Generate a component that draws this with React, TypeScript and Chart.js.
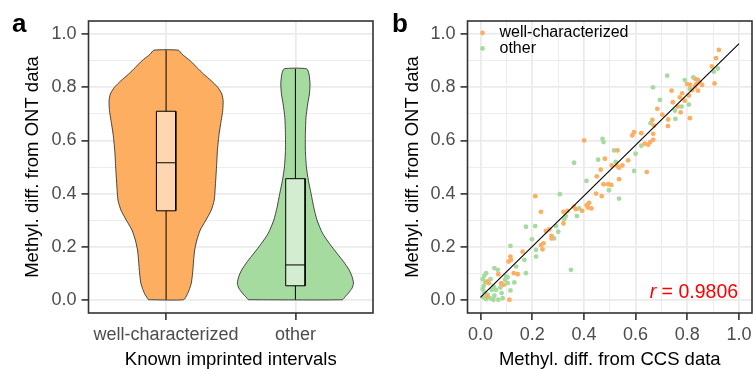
import React, { useEffect, useRef } from "react";
import { Chart, registerables } from "chart.js";

Chart.register(...registerables);

const FONT = "'Liberation Sans', Arial, Helvetica, sans-serif";

// ---------- data ----------
const categories = ["well-characterized", "other"];
const seriesColors = ["#FDAE61", "#A6DBA0"];
const boxColors = ["#FED6B0", "#D2EDCF"];

// violin outlines (density half-widths in category units, per y level)
const wellLevels = [0, 0.01875, 0.0375, 0.0625, 0.1, 0.15, 0.1875, 0.225, 0.2625, 0.3, 0.3375, 0.375, 0.4375, 0.5, 0.5625, 0.625, 0.675, 0.7125, 0.75, 0.775, 0.8, 0.825, 0.85, 0.875, 0.9, 0.925, 0.94];
const wellHalfWidth = [0.136, 0.162, 0.179, 0.195, 0.205, 0.213, 0.221, 0.238, 0.264, 0.308, 0.349, 0.372, 0.382, 0.39, 0.397, 0.41, 0.426, 0.438, 0.441, 0.431, 0.4, 0.349, 0.29, 0.238, 0.187, 0.123, 0.095];
const otherLevels = [0, 0.01, 0.025, 0.04375, 0.0625, 0.0875, 0.1125, 0.14375, 0.175, 0.2125, 0.25, 0.3, 0.35, 0.4, 0.45, 0.5, 0.5625, 0.625, 0.6875, 0.7375, 0.775, 0.8125, 0.85, 0.87];
const otherHalfWidth = [0.364, 0.382, 0.41, 0.438, 0.449, 0.438, 0.415, 0.372, 0.321, 0.262, 0.21, 0.167, 0.141, 0.121, 0.1, 0.085, 0.077, 0.077, 0.082, 0.095, 0.108, 0.113, 0.105, 0.087];

// boxplot statistics per category
const boxQ1 = [0.335, 0.0525];
const boxMedian = [0.516, 0.131];
const boxQ3 = [0.71, 0.456];
const whiskerLow = [0, 0];
const whiskerHigh = [0.94, 0.87];

// axis ticks
const majorTicks = [0, 0.2, 0.4, 0.6, 0.8, 1.0];
const minorTicks = [0.1, 0.3, 0.5, 0.7, 0.9];

// scatter: well-characterized
const wellX = [0.922, 0.911, 0.895, 0.905, 0.832, 0.841, 0.847, 0.835, 0.857, 0.829, 0.81, 0.799, 0.819, 0.841, 0.739, 0.78, 0.806, 0.771, 0.79, 0.744, 0.763, 0.684, 0.774, 0.703, 0.726, 0.725, 0.81, 0.665, 0.671, 0.594, 0.587, 0.622, 0.668, 0.668, 0.656, 0.635, 0.649, 0.401, 0.53, 0.571, 0.481, 0.508, 0.53, 0.549, 0.536, 0.465, 0.643, 0.45, 0.536, 0.476, 0.494, 0.506, 0.447, 0.469, 0.42, 0.411, 0.416, 0.429, 0.212, 0.234, 0.393, 0.362, 0.369, 0.321, 0.337, 0.321, 0.266, 0.253, 0.275, 0.275, 0.244, 0.234, 0.24, 0.163, 0.116, 0.118, 0.109, 0.069, 0.144, 0.129, 0.08, 0.09, 0.026, 0.032, 0.026, 0.112];
const wellY = [0.941, 0.91, 0.879, 0.815, 0.831, 0.828, 0.819, 0.8125, 0.809, 0.8025, 0.81, 0.8125, 0.79, 0.7875, 0.7875, 0.7775, 0.769, 0.7625, 0.75, 0.744, 0.7275, 0.719, 0.706, 0.6975, 0.679, 0.654, 0.684, 0.6775, 0.656, 0.631, 0.619, 0.6275, 0.625, 0.6025, 0.594, 0.5875, 0.584, 0.6, 0.5625, 0.525, 0.531, 0.506, 0.5025, 0.506, 0.4975, 0.49, 0.481, 0.465, 0.454, 0.435, 0.435, 0.4325, 0.4, 0.39, 0.365, 0.356, 0.3475, 0.344, 0.39, 0.331, 0.335, 0.35, 0.341, 0.331, 0.335, 0.2875, 0.265, 0.259, 0.24, 0.231, 0.2125, 0.206, 0.19, 0.181, 0.1625, 0.15, 0.144, 0.096, 0.096, 0.1, 0.0625, 0.056, 0.069, 0.0625, 0.0125, 0.0];

// scatter: other
const otherX = [0.722, 0.823, 0.79, 0.667, 0.918, 0.902, 0.81, 0.694, 0.778, 0.806, 0.752, 0.754, 0.658, 0.472, 0.476, 0.362, 0.455, 0.517, 0.523, 0.6, 0.594, 0.622, 0.41, 0.497, 0.536, 0.307, 0.382, 0.373, 0.33, 0.324, 0.292, 0.301, 0.285, 0.176, 0.212, 0.199, 0.215, 0.215, 0.116, 0.067, 0.054, 0.099, 0.105, 0.131, 0.176, 0.35, 0.17, 0.138, 0.022, 0.015, 0.009, 0.018, 0.013, 0.009, 0.015, 0.028, 0.009, 0.022, 0.039, 0.054, 0.05, 0.044, 0.06, 0.077, 0.082, 0.086, 0.116, 0.069, 0.105, 0.095, 0.039, 0.051];
const otherY = [0.844, 0.8375, 0.8275, 0.8, 0.871, 0.859, 0.794, 0.7525, 0.7275, 0.735, 0.7125, 0.681, 0.665, 0.606, 0.594, 0.516, 0.5275, 0.5625, 0.519, 0.55, 0.485, 0.58, 0.4475, 0.4125, 0.381, 0.3975, 0.344, 0.315, 0.315, 0.3025, 0.2775, 0.256, 0.231, 0.275, 0.2775, 0.2275, 0.1875, 0.1625, 0.2025, 0.1125, 0.119, 0.0875, 0.084, 0.065, 0.1, 0.1125, 0.15, 0.125, 0.1, 0.09, 0.0775, 0.065, 0.0525, 0.04, 0.0275, 0.019, 0.01, 0.0025, 0.005, 0.015, 0.0, 0.0375, 0.0375, 0.046, 0.025, 0.006, 0.035, 0.0, 0.0625, 0.075, 0.0775, 0.05];

// fitted line
const fitX = [0, 1];
const fitY = [0.009, 0.965];
const correlation = "0.9806";

// ---------- helpers ----------
const BOX_HALF = 0.075;
const GRID = "#EBEBEB";
const DARK = "#333333";
const TICK_TXT = "#4D4D4D";

const isIn = (arr: number[], v: number) => arr.some((m) => Math.abs(m - v) < 1e-6);

function violinPolygon(center: number, levels: number[], hw: number[]) {
  const left = levels.map((y, i) => ({ x: center - hw[i], y }));
  const right = levels.map((y, i) => ({ x: center + hw[i], y })).reverse();
  return [...left, ...right, left[0]];
}

function valueAxis(axis: "x" | "y", titleText: string, fixedSize: number, tickPad: number, titlePad: any) {
  return {
    type: "linear",
    min: -0.05,
    max: 1.05,
    afterBuildTicks: (s: any) => {
      s.ticks = [...majorTicks, ...minorTicks].sort((a, b) => a - b).map((v) => ({ value: v }));
    },
    ticks: {
      autoSkip: false,
      maxRotation: 0,
      padding: tickPad,
      color: TICK_TXT,
      font: { family: FONT, size: 18 },
      callback: (v: number) => (isIn(majorTicks, v) ? v.toFixed(1) : ""),
    },
    grid: {
      color: GRID,
      lineWidth: (ctx: any) => (ctx.tick && isIn(minorTicks, ctx.tick.value) ? 0.9 : 1.8),
      tickColor: (ctx: any) => (ctx.tick && isIn(minorTicks, ctx.tick.value) ? "rgba(0,0,0,0)" : DARK),
      tickWidth: 1.6,
      tickLength: 7,
      drawTicks: true,
    },
    border: { display: false },
    title: {
      display: true,
      text: titleText,
      color: "#000000",
      font: { family: FONT, size: 18.5 },
      padding: titlePad,
    },
    afterFit: (s: any) => {
      if (axis === "y") {
        s.width = fixedSize;
        s.paddingTop = 0;
        s.paddingBottom = 0;
      } else {
        s.height = fixedSize;
        s.paddingLeft = 0;
        s.paddingRight = 0;
      }
    },
  };
}

function framePlugin(letter: string, letterX: number) {
  return {
    id: "frame_" + letter,
    afterDraw(chart: any) {
      const { ctx, chartArea: a } = chart;
      ctx.save();
      ctx.strokeStyle = DARK;
      ctx.lineWidth = 1.6;
      ctx.strokeRect(a.left, a.top, a.right - a.left, a.bottom - a.top);
      ctx.fillStyle = "#000";
      ctx.font = `bold 26px ${FONT}`;
      ctx.textAlign = "left";
      ctx.textBaseline = "alphabetic";
      ctx.fillText(letter, letterX, 32);
      ctx.restore();
    },
  };
}

// ---------- panel a ----------
function ViolinPanel() {
  const ref = useRef<HTMLCanvasElement | null>(null);
  useEffect(() => {
    if (!ref.current) return;
    const positions = categories.map((_, i) => i + 1);
    const levelSets = [wellLevels, otherLevels];
    const hwSets = [wellHalfWidth, otherHalfWidth];
    const datasets: any[] = [];
    categories.forEach((cat, i) => {
      const c = positions[i];
      datasets.push({
        label: cat + " violin",
        data: violinPolygon(c, levelSets[i], hwSets[i]),
        fill: "shape",
        backgroundColor: seriesColors[i],
        borderColor: DARK,
        borderWidth: 0.9,
        pointRadius: 0,
        tension: 0.2,
        order: 10,
      });
      datasets.push({
        label: cat + " whisker",
        data: [
          { x: c, y: whiskerLow[i] },
          { x: c, y: whiskerHigh[i] },
        ],
        fill: false,
        borderColor: "#000",
        borderWidth: 1,
        pointRadius: 0,
        order: 9,
      });
      datasets.push({
        label: cat + " box",
        data: [
          { x: c - BOX_HALF, y: boxQ1[i] },
          { x: c - BOX_HALF, y: boxQ3[i] },
          { x: c + BOX_HALF, y: boxQ3[i] },
          { x: c + BOX_HALF, y: boxQ1[i] },
          { x: c - BOX_HALF, y: boxQ1[i] },
        ],
        fill: "shape",
        backgroundColor: boxColors[i],
        borderColor: "#000",
        borderWidth: 1,
        pointRadius: 0,
        tension: 0,
        order: 8,
      });
      datasets.push({
        label: cat + " median",
        data: [
          { x: c - BOX_HALF, y: boxMedian[i] },
          { x: c + BOX_HALF, y: boxMedian[i] },
        ],
        fill: false,
        borderColor: "#000",
        borderWidth: 1,
        pointRadius: 0,
        order: 7,
      });
    });

    const chart = new Chart(ref.current, {
      type: "line",
      data: { datasets },
      plugins: [framePlugin("a", 12)],
      options: {
        animation: false,
        responsive: false,
        devicePixelRatio: 1,
        events: [],
        layout: { padding: { top: 21, right: 7, left: 0, bottom: 0 } },
        plugins: { legend: { display: false }, tooltip: { enabled: false } },
        scales: {
          x: {
            type: "linear",
            min: 0.4,
            max: categories.length + 0.6,
            afterBuildTicks: (s: any) => {
              s.ticks = positions.map((v) => ({ value: v }));
            },
            ticks: {
              autoSkip: false,
              maxRotation: 0,
              padding: 4,
              color: TICK_TXT,
              font: { family: FONT, size: 18 },
              callback: (v: number) => categories[Math.round(v) - 1] ?? "",
            },
            grid: { color: GRID, lineWidth: 1.8, tickColor: DARK, tickWidth: 1.6, tickLength: 7 },
            border: { display: false },
            title: {
              display: true,
              text: "Known imprinted intervals",
              color: "#000",
              font: { family: FONT, size: 18.5 },
              padding: { top: 0, bottom: 9.4 },
            },
            afterFit: (s: any) => {
              s.height = 67;
              s.paddingLeft = 0;
              s.paddingRight = 0;
            },
          } as any,
          y: valueAxis("y", "Methyl. diff. from ONT data", 88.5, 5, { top: 21.5, bottom: 0 }) as any,
        },
      } as any,
    });
    return () => chart.destroy();
  }, []);
  return (
    <canvas
      ref={ref}
      width={380}
      height={380}
      style={{ position: "absolute", left: 0, top: 0, width: 380, height: 380 }}
    />
  );
}

// ---------- panel b ----------
function ScatterPanel() {
  const ref = useRef<HTMLCanvasElement | null>(null);
  useEffect(() => {
    if (!ref.current) return;
    const wellPts = wellX.map((x, i) => ({ x, y: wellY[i] }));
    const otherPts = otherX.map((x, i) => ({ x, y: otherY[i] }));
    const fitPts = fitX.map((x, i) => ({ x, y: fitY[i] }));

    const overlay = {
      id: "overlayB",
      afterDraw(chart: any) {
        const { ctx, chartArea: a, scales } = chart;
        ctx.save();
        // legend
        [0, 1].forEach((i) => {
          const y = a.top + 12 + i * 15.5;
          ctx.fillStyle = seriesColors[i];
          ctx.beginPath();
          ctx.arc(a.left + 15, y, 2.4, 0, Math.PI * 2);
          ctx.fill();
          ctx.fillStyle = "#000";
          ctx.font = `16px ${FONT}`;
          ctx.textAlign = "left";
          ctx.textBaseline = "middle";
          ctx.fillText(categories[i], a.left + 32, y);
        });
        // correlation label
        const right = scales.x.getPixelForValue(1.0) - 1;
        const base = scales.y.getPixelForValue(0) - 1.5;
        const italic = `italic 19.5px ${FONT}`;
        const normal = `19.5px ${FONT}`;
        ctx.textBaseline = "alphabetic";
        ctx.textAlign = "left";
        ctx.font = italic;
        const wr = ctx.measureText("r").width;
        ctx.font = normal;
        const rest = " = " + correlation;
        const wrest = ctx.measureText(rest).width;
        const start = right - wr - wrest;
        ctx.fillStyle = "#FF0000";
        ctx.font = italic;
        ctx.fillText("r", start, base);
        ctx.font = normal;
        ctx.fillText(rest, start + wr, base);
        ctx.restore();
      },
    };

    const chart = new Chart(ref.current, {
      type: "scatter",
      data: {
        datasets: [
          {
            label: "fit",
            data: fitPts,
            showLine: true,
            borderColor: "#000",
            borderWidth: 1.1,
            pointRadius: 0,
            fill: false,
            order: 0,
          },
          {
            label: categories[0],
            data: wellPts,
            backgroundColor: seriesColors[0],
            borderWidth: 0,
            pointRadius: 2.4,
            order: 1,
          },
          {
            label: categories[1],
            data: otherPts,
            backgroundColor: seriesColors[1],
            borderWidth: 0,
            pointRadius: 2.4,
            order: 2,
          },
        ],
      },
      plugins: [framePlugin("b", 12), overlay],
      options: {
        animation: false,
        responsive: false,
        devicePixelRatio: 1,
        events: [],
        layout: { padding: { top: 21, right: 28, left: 0, bottom: 0 } },
        plugins: { legend: { display: false }, tooltip: { enabled: false } },
        scales: {
          x: valueAxis("x", "Methyl. diff. from CCS data", 67, 4, { top: 0, bottom: 9.4 }) as any,
          y: valueAxis("y", "Methyl. diff. from ONT data", 87.5, 5, { top: 21.5, bottom: 0 }) as any,
        },
      } as any,
    });
    return () => chart.destroy();
  }, []);
  return (
    <canvas
      ref={ref}
      width={400}
      height={380}
      style={{ position: "absolute", left: 380, top: 0, width: 400, height: 380 }}
    />
  );
}

export default function App() {
  return (
    <div
      style={{
        position: "fixed",
        left: 0,
        top: 0,
        width: 753,
        height: 369,
        overflow: "hidden",
        background: "#ffffff",
      }}
    >
      <ViolinPanel />
      <ScatterPanel />
    </div>
  );
}
